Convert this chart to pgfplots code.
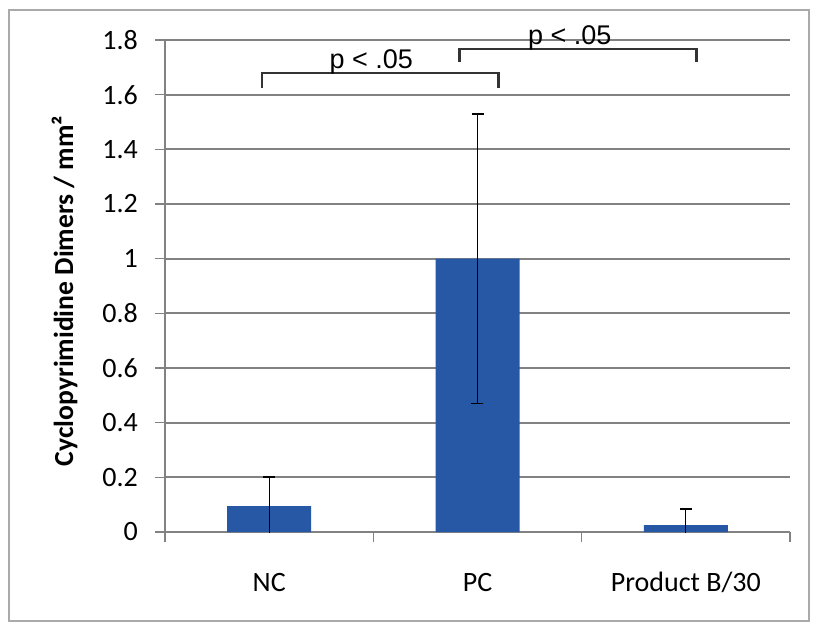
\documentclass[border=0pt]{standalone}
\usepackage{pgfplots}
\pgfplotsset{compat=1.18}
\usepackage{fontspec}
\setmainfont{Carlito}
\newfontfamily\arialfont{Liberation Sans}
\definecolor{barblue}{RGB}{38,88,165}
\definecolor{gridgray}{RGB}{130,130,130}
\definecolor{framegray}{RGB}{170,170,170}
\begin{document}
\begin{tikzpicture}
\useasboundingbox (0,0) rectangle (407pt,314pt);
\draw[framegray, line width=1pt] (4.5pt,3.5pt) rectangle (404.5pt,309pt);
\begin{axis}[
  at={(82.5pt,48pt)}, anchor=south west,
  scale only axis, width=312.5pt, height=246pt,
  xmin=-0.5, xmax=2.5, ymin=0, ymax=1.8,
  axis lines=left,
  axis line style={-, draw=gridgray, line width=0.8pt},
  xtick={-0.5,0.5,1.5,2.5}, xticklabels={},
  extra x ticks={0,1,2}, extra x tick labels={NC,PC,Product B/30},
  extra x tick style={major tick length=0pt, grid=none},
  ytick={0,0.2,0.4,0.6,0.8,1,1.2,1.4,1.6,1.8},
  yticklabels={0,0.2,0.4,0.6,0.8,1,1.2,1.4,1.6,1.8},
  tick align=outside, major tick length=5pt,
  tick style={draw=gridgray, line width=0.8pt},
  ymajorgrids, grid style={draw=gridgray, line width=1pt},
  ticklabel style={font=\fontsize{14}{16}\selectfont},
  yticklabel style={anchor=east, xshift=-5pt},
  xticklabel style={anchor=base, yshift=-29.5pt},
  ylabel={Cyclopyrimidine Dimers / mm²},
  ylabel style={font=\bfseries\fontsize{13.8}{16}\selectfont, at={(axis description cs:-0.147,0.49)}, anchor=base},
  clip mode=individual,
]
\addplot[ybar, bar width=42pt, fill=barblue, draw=none,
  error bars/.cd, y dir=both, y explicit,
  error bar style={black, line width=0.6pt},
  error mark options={rotate=90, black, mark size=3pt, line width=0.9pt}]
  coordinates {(0,0.095) +- (0,0.105) (1,1.0) +- (0,0.53) (2,0.025) +- (0,0.06)};
\addplot[color={black!80}, line width=1.2pt, mark=none] coordinates {(-0.033,1.626) (-0.033,1.679) (1.10,1.679) (1.10,1.626)};
\addplot[color={black!80}, line width=1.2pt, mark=none] coordinates {(0.914,1.72) (0.914,1.767) (2.052,1.767) (2.052,1.72)};
\node[anchor=base, font=\arialfont\fontsize{13.5}{16}\selectfont, inner sep=0pt] at (axis cs:0.49,1.697) {p < .05};
\node[anchor=base, font=\arialfont\fontsize{13.5}{16}\selectfont, inner sep=0pt] at (axis cs:1.443,1.785) {p < .05};
\end{axis}
\end{tikzpicture}
\end{document}
